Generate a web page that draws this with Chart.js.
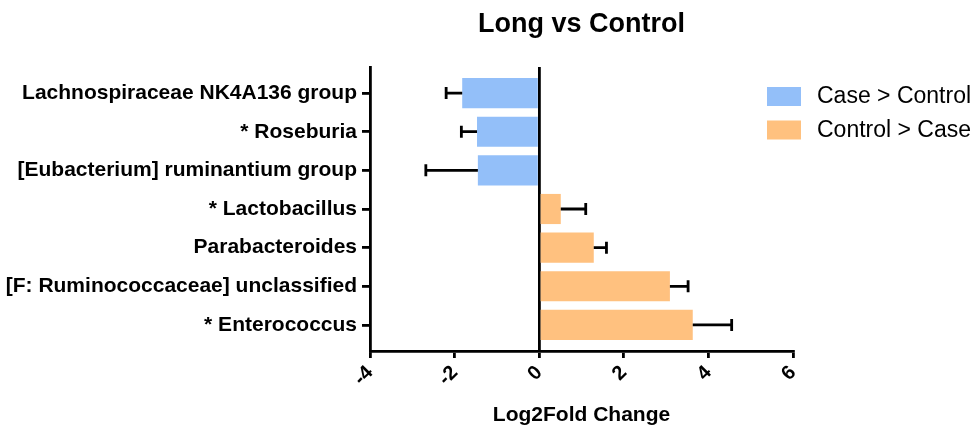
<!DOCTYPE html>
<html>
<head>
<meta charset="utf-8">
<script src="https://cdn.jsdelivr.net/npm/chart.js@4/dist/chart.umd.min.js"></script>
<style>
  html, body { margin: 0; padding: 0; background: #fff; }
  #chart { display: block; }
</style>
</head>
<body>
<canvas id="chart" width="974" height="430"></canvas>
<script>
// values
const categories = [
  'Lachnospiraceae NK4A136 group',
  '* Roseburia',
  '[Eubacterium] ruminantium group',
  '* Lactobacillus',
  'Parabacteroides',
  '[F: Ruminococcaceae] unclassified',
  '* Enterococcus'
];
const log2fc = [-1.82, -1.47, -1.45, 0.51, 1.29, 3.09, 3.63];
const errors = [0.38, 0.37, 1.23, 0.59, 0.30, 0.43, 0.92];
const xTicks = [-4, -2, 0, 2, 4, 6];
const seriesNames = ['Case > Control', 'Control > Case'];
const seriesColors = ['#93BFF9', '#FFC17F'];

const FONT = "'Liberation Sans', Arial, sans-serif";
const LINE = 2.8;

// split by direction of change
const caseData = [];
const controlData = [];
log2fc.forEach((v, i) => {
  if (v < 0) caseData.push({ x: v, y: i, err: errors[i] });
  else controlData.push({ x: v, y: i, err: errors[i] });
});

// error bars drawn from the bar end outwards
const errorBars = {
  id: 'errorBars',
  afterDatasetsDraw(chart) {
    const { ctx, scales: { x } } = chart;
    ctx.save();
    ctx.strokeStyle = '#000';
    ctx.lineWidth = LINE;
    chart.data.datasets.forEach((ds, di) => {
      const meta = chart.getDatasetMeta(di);
      meta.data.forEach((bar, i) => {
        const p = ds.data[i];
        const end = p.x < 0 ? p.x - p.err : p.x + p.err;
        const x0 = x.getPixelForValue(p.x);
        const x1 = x.getPixelForValue(end);
        ctx.beginPath();
        ctx.moveTo(x0, bar.y);
        ctx.lineTo(x1, bar.y);
        ctx.moveTo(x1, bar.y - 6);
        ctx.lineTo(x1, bar.y + 6);
        ctx.stroke();
      });
    });
    ctx.restore();
  }
};

// legend to the right, overlapping the plot's right margin
const sideLegend = {
  id: 'sideLegend',
  afterDraw(chart) {
    const { ctx } = chart;
    ctx.save();
    ctx.font = '23px ' + FONT;
    ctx.textBaseline = 'middle';
    ctx.textAlign = 'left';
    seriesNames.forEach((name, i) => {
      const y = 87 + i * 33.5;
      ctx.fillStyle = seriesColors[i];
      ctx.fillRect(767, y, 34, 19);
      ctx.fillStyle = '#000';
      ctx.fillText(name, 817, y + 10);
    });
    ctx.restore();
  }
};

new Chart(document.getElementById('chart'), {
  type: 'bar',
  data: {
    datasets: [
      { label: seriesNames[0], data: caseData, backgroundColor: seriesColors[0], grouped: false },
      { label: seriesNames[1], data: controlData, backgroundColor: seriesColors[1], grouped: false }
    ]
  },
  options: {
    indexAxis: 'y',
    responsive: false,
    animation: false,
    barPercentage: 0.78,
    categoryPercentage: 1,
    layout: { padding: { top: 0, right: 181, left: 0, bottom: 0 } },
    plugins: {
      legend: { display: false },
      tooltip: { enabled: false },
      title: {
        display: true,
        text: 'Long vs Control',
        fullSize: false,
        color: '#000',
        font: { family: FONT, size: 27, weight: 'bold' },
        padding: { top: 8, bottom: 26.6 }
      }
    },
    scales: {
      x: {
        type: 'linear',
        min: -4,
        max: 6,
        z: 1,
        afterBuildTicks: s => { s.ticks = xTicks.map(v => ({ value: v })); },
        afterFit: s => { s.height = 79; },
        border: { display: true, color: '#000', width: LINE },
        grid: {
          drawOnChartArea: true,
          color: c => (c.tick && c.tick.value === 0 ? '#000' : 'rgba(0,0,0,0)'),
          lineWidth: LINE,
          tickColor: '#000',
          tickLength: 7
        },
        ticks: {
          color: '#000',
          font: { family: FONT, size: 20, weight: 'bold' },
          minRotation: 45,
          maxRotation: 45,
          padding: 3
        },
        title: {
          display: true,
          text: 'Log2Fold Change',
          color: '#000',
          font: { family: FONT, size: 21, weight: 'bold' },
          padding: { top: 0, bottom: 2 }
        }
      },
      y: {
        type: 'linear',
        min: -0.675,
        max: 6.675,
        reverse: true,
        offset: false,
        afterBuildTicks: s => { s.ticks = categories.map((c, i) => ({ value: i })); },
        afterFit: s => { s.width = 370; },
        border: { display: true, color: '#000', width: LINE },
        grid: {
          offset: false,
          drawOnChartArea: false,
          color: '#000',
          lineWidth: LINE,
          tickLength: 8
        },
        ticks: {
          color: '#000',
          font: { family: FONT, size: 21, weight: 'bold' },
          padding: 5,
          callback: v => categories[v]
        }
      }
    }
  },
  plugins: [errorBars, sideLegend]
});
</script>
</body>
</html>
